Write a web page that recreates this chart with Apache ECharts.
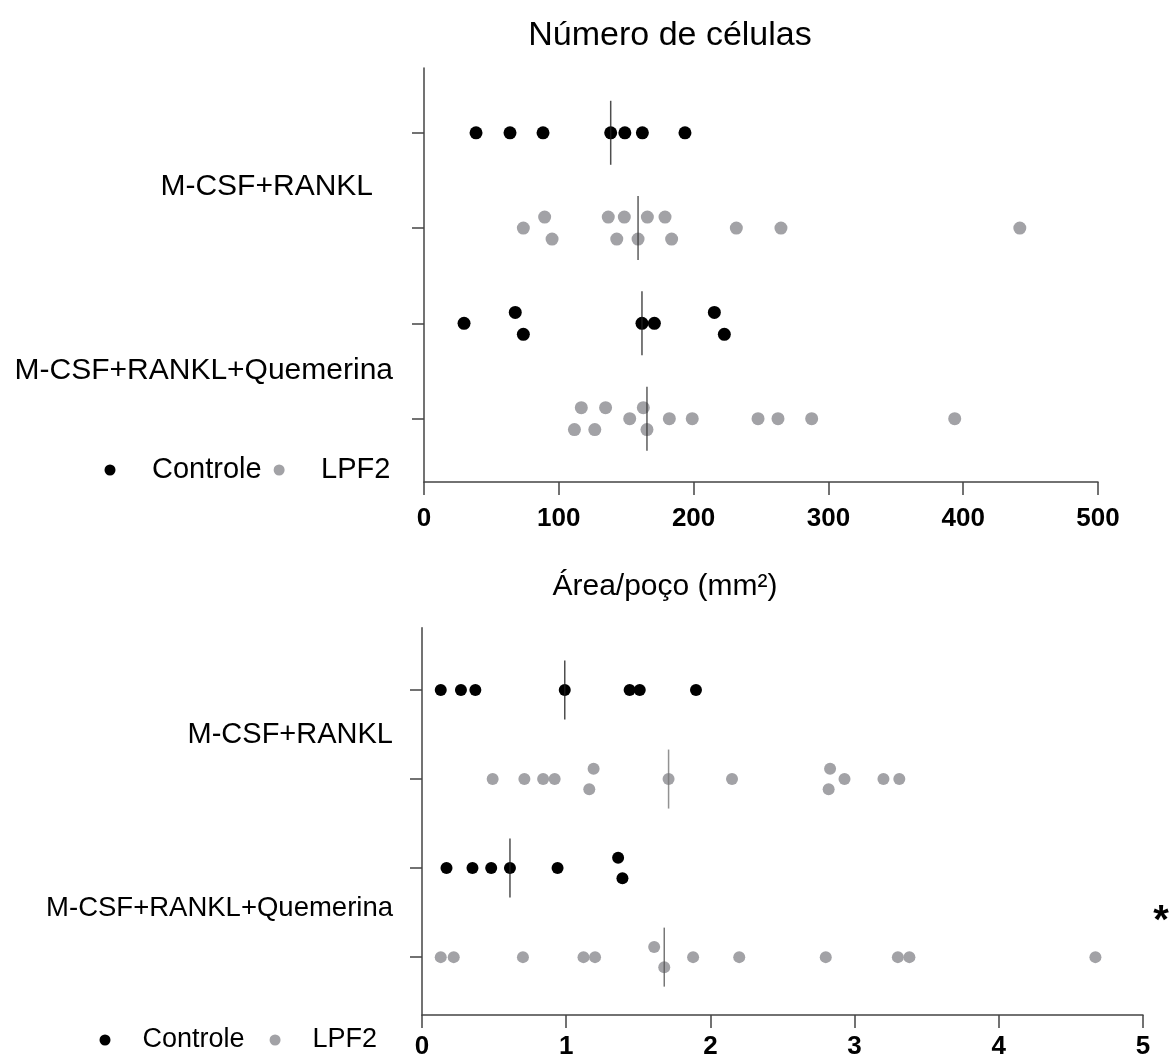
<!DOCTYPE html>
<html>
<head>
<meta charset="utf-8">
<script src="https://cdn.jsdelivr.net/npm/echarts@6/dist/echarts.min.js"></script>
<style>
  html, body { margin: 0; padding: 0; background: #fff; }
  #chart { width: 1171px; height: 1055px; }
</style>
</head>
<body>
<div id="chart"></div>
<script>
// Groups (two rows each: Controle above, LPF2 below)
var groups = ['M-CSF+RANKL', 'M-CSF+RANKL+Quemerina'];
var seriesNames = ['Controle', 'LPF2'];

// Número de células — one value per well
var cellsCtrlRankl = [38.6, 63.8, 88.3, 138.5, 149, 162, 193.6];
var cellsLpfRankl = [73.7, 89.5, 95, 136.7, 143, 148.6, 158.8, 165.7, 178.8, 183.7, 231.7, 264.8, 442];
var cellsCtrlQuem = [29.7, 67.7, 73.7, 161.7, 170.9, 215.4, 222.8];
var cellsLpfQuem = [111.6, 116.7, 126.7, 134.7, 152.6, 162.7, 165.4, 182, 199, 247.8, 262.6, 287.6, 393.7];

// Dot lanes inside a row (-1 above, 0 on the row, 1 below) to separate overlapping dots
var cellsLaneCtrlRankl = [0, 0, 0, 0, 0, 0, 0];
var cellsLaneLpfRankl = [0, -1, 1, -1, 1, -1, 1, -1, -1, 1, 0, 0, 0];
var cellsLaneCtrlQuem = [0, -1, 1, 0, 0, -1, 1];
var cellsLaneLpfQuem = [1, -1, 1, -1, 0, -1, 1, 0, 0, 0, 0, 0, 0];

// Área/poço (mm²)
var areaCtrlRankl = [0.13, 0.27, 0.37, 0.99, 1.44, 1.51, 1.90];
var areaLpfRankl = [0.49, 0.71, 0.84, 0.92, 1.16, 1.19, 1.71, 2.15, 2.82, 2.83, 2.93, 3.20, 3.31];
var areaCtrlQuem = [0.17, 0.35, 0.48, 0.61, 0.94, 1.36, 1.39];
var areaLpfQuem = [0.13, 0.22, 0.70, 1.12, 1.20, 1.61, 1.68, 1.88, 2.20, 2.80, 3.30, 3.38, 4.67];

var areaLaneCtrlRankl = [0, 0, 0, 0, 0, 0, 0];
var areaLaneLpfRankl = [0, 0, 0, 0, 1, -1, 0, 0, 1, -1, 0, 0, 0];
var areaLaneCtrlQuem = [0, 0, 0, 0, 0, -1, 1];
var areaLaneLpfQuem = [0, 0, 0, 0, 0, -1, 1, 0, 0, 0, 0, 0, 0];

// Axis ticks
var cellsTicks = [0, 100, 200, 300, 400, 500];
var areaTicks = [0, 1, 2, 3, 4, 5];

var BLACK = '#000000';
var GREY = '#a2a2a6';
var FONT = '"Liberation Sans", Arial, sans-serif';
var LANE = 0.115;

function median(arr) {
  var s = arr.slice().sort(function (a, b) { return a - b; });
  var n = s.length;
  return n % 2 ? s[(n - 1) / 2] : (s[n / 2 - 1] + s[n / 2]) / 2;
}

// Row position of each dot: row index plus a small lane offset
function rowPoints(values, lanes, row) {
  return values.map(function (v, i) { return [v, row + lanes[i] * LANE]; });
}

function dots(name, color, size, idx, rows) {
  var data = [];
  rows.forEach(function (r) { data = data.concat(rowPoints(r[0], r[1], r[2])); });
  return {
    name: name, type: 'scatter', xAxisIndex: idx, yAxisIndex: idx,
    symbol: 'circle', symbolSize: size,
    itemStyle: { color: color, opacity: 1 },
    data: data, z: 2, silent: true
  };
}

function medians(idx, rows, height) {
  return rows.map(function (r) {
    return {
      type: 'scatter', xAxisIndex: idx, yAxisIndex: idx,
      symbol: 'rect', symbolSize: [1.5, height],
      itemStyle: { color: r[2] },
      data: [[median(r[0]), r[1]]], z: 3, silent: true
    };
  });
}

function valueXAxis(idx, ticks, margin) {
  return {
    type: 'value', gridIndex: idx,
    min: ticks[0], max: ticks[ticks.length - 1], interval: ticks[1] - ticks[0],
    axisLine: { show: true, onZero: false, lineStyle: { color: '#444', width: 1.5 } },
    axisTick: { show: true, length: 13, lineStyle: { color: '#444', width: 1.5 } },
    axisLabel: { color: '#000', fontFamily: FONT, fontWeight: 'bold', fontSize: 26, margin: margin },
    splitLine: { show: false }
  };
}

function rowYAxis(idx, min, max) {
  return {
    type: 'value', gridIndex: idx, inverse: true, min: min, max: max,
    axisLine: { show: true, onZero: false, lineStyle: { color: '#444', width: 1.5 } },
    axisTick: { show: true, length: 12, customValues: [0, 1, 2, 3], lineStyle: { color: '#444', width: 1.5 } },
    axisLabel: { show: false },
    splitLine: { show: false }
  };
}

function legend(left, top, fontSize, pad, gap) {
  return {
    data: seriesNames, left: left, top: top, orient: 'horizontal',
    icon: 'circle', itemWidth: 11, itemHeight: 11, itemGap: gap, padding: 0,
    selectedMode: false,
    textStyle: { color: '#000', fontFamily: FONT, fontSize: fontSize, lineHeight: fontSize + 1, padding: [0, 0, 0, pad] }
  };
}

var chart = echarts.init(document.getElementById('chart'), null, { renderer: 'canvas' });

var option = {
  backgroundColor: '#ffffff',
  animation: false,
  title: [
    { text: 'Número de células', left: 670, top: 19, textAlign: 'center', padding: 0,
      textStyle: { fontFamily: FONT, fontWeight: 'normal', fontSize: 34, color: '#000' } },
    { text: 'Área/poço (mm²)', left: 665, top: 572, textAlign: 'center', padding: 0,
      textStyle: { fontFamily: FONT, fontWeight: 'normal', fontSize: 30, color: '#000' } }
  ],
  legend: [
    legend(104.5, 455, 29, 31.5, 12),
    legend(99.5, 1026, 27, 27, 25)
  ],
  grid: [
    { left: 424, right: 73, top: 68, bottom: 573, containLabel: false, outerBoundsMode: 'none' },
    { left: 422, right: 28, top: 627.7, bottom: 40, containLabel: false, outerBoundsMode: 'none' }
  ],
  xAxis: [valueXAxis(0, cellsTicks, 24), valueXAxis(1, areaTicks, 19)],
  yAxis: [rowYAxis(0, -0.68, 3.665), rowYAxis(1, -0.7, 3.65)],
  series: [].concat(
    [
      dots('Controle', BLACK, 13, 0, [[cellsCtrlRankl, cellsLaneCtrlRankl, 0], [cellsCtrlQuem, cellsLaneCtrlQuem, 2]]),
      dots('LPF2', GREY, 13, 0, [[cellsLpfRankl, cellsLaneLpfRankl, 1], [cellsLpfQuem, cellsLaneLpfQuem, 3]]),
      dots('Controle', BLACK, 12, 1, [[areaCtrlRankl, areaLaneCtrlRankl, 0], [areaCtrlQuem, areaLaneCtrlQuem, 2]]),
      dots('LPF2', GREY, 12, 1, [[areaLpfRankl, areaLaneLpfRankl, 1], [areaLpfQuem, areaLaneLpfQuem, 3]])
    ],
    medians(0, [[cellsCtrlRankl, 0, '#222'], [cellsLpfRankl, 1, '#333'], [cellsCtrlQuem, 2, '#222'], [cellsLpfQuem, 3, '#333']], 64),
    medians(1, [[areaCtrlRankl, 0, '#222'], [areaLpfRankl, 1, '#777'], [areaCtrlQuem, 2, '#222'], [areaLpfQuem, 3, '#555']], 59)
  ),
  graphic: [
    { type: 'text', x: 373, y: 187, silent: true,
      style: { text: groups[0], font: '30px ' + FONT, fill: '#000', align: 'right', verticalAlign: 'middle' } },
    { type: 'text', x: 393, y: 370.5, silent: true,
      style: { text: groups[1], font: '30px ' + FONT, fill: '#000', align: 'right', verticalAlign: 'middle' } },
    { type: 'text', x: 393, y: 735, silent: true,
      style: { text: groups[0], font: '29px ' + FONT, fill: '#000', align: 'right', verticalAlign: 'middle' } },
    { type: 'text', x: 393, y: 908, silent: true,
      style: { text: groups[1], font: '27.5px ' + FONT, fill: '#000', align: 'right', verticalAlign: 'middle' } },
    { type: 'text', x: 1161, y: 902, silent: true,
      style: { text: '*', font: 'bold 40px ' + FONT, fill: '#000', align: 'center', verticalAlign: 'top' } }
  ]
};

chart.setOption(option);
</script>
</body>
</html>
